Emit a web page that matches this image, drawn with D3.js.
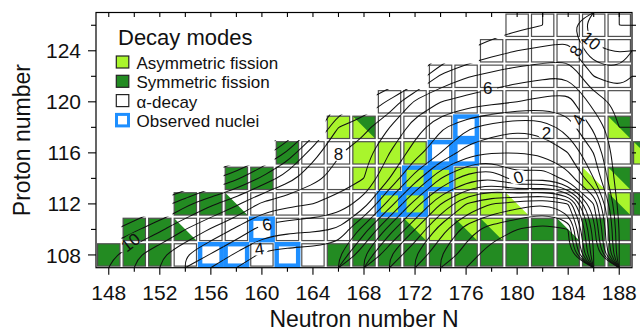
<!DOCTYPE html>
<html>
<head>
<meta charset="utf-8">
<script src="https://cdn.jsdelivr.net/npm/d3@7"></script>
<style>
  body { margin: 0; background: #fff; }
  text { font-family: "Liberation Sans", Arial, Helvetica, sans-serif; fill: #111; }
</style>
</head>
<body>
<svg id="chart" width="640" height="331"></svg>
<script>
// ---- data -------------------------------------------------------------
const neutronTicks = [148, 152, 156, 160, 164, 168, 172, 176, 180, 184, 188];
const protonTicks = [108, 112, 116, 120, 124];

// even-even nuclei, one row per proton number; first neutron number of each row
const protonRows = [108, 110, 112, 114, 116, 118, 120, 122, 124, 126];
const rowStartN  = [148, 150, 154, 158, 162, 166, 170, 174, 178, 180];
// G = symmetric fission, L = asymmetric fission, W = alpha decay
// "A|B": upper-right half A, lower-left half B
const rowModes = [
  "G G G W W W W W W G G G G G G G G G G G G",
  "G G W|G W W W W W W G G L|G L L|G L|G G G W|G G G",
  "G G W|G W W W W W L L L L L W|L W W W L|G G",
  "G G W W W L L L L L W W W W W|L G|L",
  "G W W L L L W W W W W W W W G|L",
  "L G|L W W W W W W W W W G|L",
  "W W W W W W W W W W",
  "W W W W W W W W",
  "W W W W W W",
  "W W W W W"
];
const observedN = [156, 158, 162, 160, 170, 172, 172, 174, 174, 176, 176];
const observedZ = [108, 108, 108, 110, 112, 112, 114, 114, 116, 116, 118];

// log-scale lifetime landscape sampled at the even-even grid (N = 148..188, Z = 108..126)
const fieldN = d3.range(148, 189, 2);
const fieldZ = d3.range(108, 127, 2);
const fieldValues = [
  [10.3, 9.2, 8.2, 7.0, 5.9, 4.8, 3.8, 3.5, 3.4, 3.1, 0.0, -3.0, -5.0, -7.0, -8.5, -9.5, -10, -10, -9.5, -2.0, 6.0],
  [12.3, 11.2, 10.2, 9.0, 7.9, 6.8, 5.6, 5.3, 5.2, 4.9, 2.5, -0.5, -3.0, -5.5, -7.5, -8.5, -9.0, -9.5, -9.0, -1.5, 6.0],
  [14.5, 13.5, 12.5, 11.3, 10.2, 9.2, 7.8, 7.3, 7.0, 6.6, 5.5, 2.5, -0.5, -3.0, -5.0, -6.0, -6.5, -7.0, -6.0, 0.0, 6.5],
  [17.5, 16.5, 15.5, 14.5, 13.2, 12.2, 10.8, 9.4, 8.3, 7.6, 7.0, 5.0, 2.5, 0.0, -1.5, -2.0, -0.3, -0.8, 0.5, 3.0, 6.8],
  [20.5, 19.5, 18.5, 17.5, 16.2, 15.2, 13.6, 11.8, 9.4, 8.1, 7.4, 6.0, 4.5, 3.0, 1.5, 1.0, 1.0, 1.2, 2.0, 4.0, 6.9],
  [23, 22, 21, 20, 19, 18, 16.5, 14.5, 12, 9.0, 8.3, 7.0, 5.5, 4.2, 3.2, 2.6, 2.2, 2.4, 3.5, 5.2, 7.0],
  [25, 24, 23, 22, 21, 20, 18.5, 16.5, 14, 11, 10, 8.8, 6.8, 6.0, 5.6, 5.3, 5.0, 4.7, 4.6, 6.4, 7.3],
  [27, 26, 25, 24, 23, 22, 20.5, 18.5, 16, 13, 12, 11, 10, 7.8, 7.1, 6.7, 6.4, 6.2, 6.0, 8.0, 8.5],
  [29, 28, 27, 26, 25, 24, 22.5, 20.5, 18, 15, 14, 13, 12, 10.5, 9.0, 8.4, 8.0, 7.8, 7.6, 9.8, 10.1],
  [31, 30, 29, 28, 27, 26, 24.5, 22.5, 20, 17, 16, 15, 14, 12.5, 10.5, 9.7, 9.3, 9.0, 8.8, 10.7, 11.0]
];
const contourLevels = d3.range(-12, 22, 1);

const contourLabelText  = ["10", "4", "6", "8", "6", "8", "10", "2", "4", "0"];
const contourLabelN     = [149.7, 159.8, 160.4, 166.0, 177.7, 184.6, 185.8, 182.3, 184.8, 180.1];
const contourLabelZ     = [109.0, 108.5, 110.4, 115.9, 121.1, 124.0, 124.8, 117.6, 118.6, 114.1];
const contourLabelAngle = [-38, -8, -15, 0, 0, -60, 40, 0, -62, -20];

const legendLabels = ["Asymmetric fission", "Symmetric fission", "\u03b1-decay", "Observed nuclei"];
const legendKeys = ["L", "G", "W", "O"];

// ---- layout -----------------------------------------------------------
const modeColor = { G: "#238b22", L: "#a9f52c", W: "#ffffff" };
const observedColor = "#1e8fff";
const svg = d3.select("#chart");
const x = d3.scaleLinear().domain([147, 189]).range([96, 632]);
const y = d3.scaleLinear().domain([107, 127]).range([267.7, 12.5]);

// list of cells
const cells = [];
protonRows.forEach((z, r) => {
  rowModes[r].split(" ").forEach((tok, i) => {
    cells.push({ n: rowStartN[r] + 2 * i, z, tok });
  });
});

// clip region = union of nuclei cells
const defs = svg.append("defs");
const clip = defs.append("clipPath").attr("id", "cellsClip");
cells.forEach(c => {
  clip.append("rect")
    .attr("x", x(c.n - 1)).attr("y", y(c.z + 1))
    .attr("width", x(c.n + 1) - x(c.n - 1)).attr("height", y(c.z - 1) - y(c.z + 1));
});

// ---- cells ------------------------------------------------------------
const inset = 1.6;
const cellG = svg.append("g");
cells.forEach(c => {
  const x0 = x(c.n - 1) + inset, x1 = x(c.n + 1) - inset;
  const y0 = y(c.z + 1) + inset, y1 = y(c.z - 1) - inset;
  const parts = c.tok.split("|");
  const lower = parts.length > 1 ? parts[1] : parts[0];
  cellG.append("rect").attr("x", x0).attr("y", y0).attr("width", x1 - x0).attr("height", y1 - y0)
    .attr("fill", modeColor[lower]);
  if (parts.length > 1) {
    cellG.append("path").attr("d", `M${x0},${y0}L${x1},${y0}L${x1},${y1}Z`).attr("fill", modeColor[parts[0]]);
  }
  cellG.append("rect").attr("x", x0).attr("y", y0).attr("width", x1 - x0).attr("height", y1 - y0)
    .attr("fill", "none").attr("stroke", "#505050").attr("stroke-width", 1.2);
});

// observed nuclei frames
observedN.forEach((n, i) => {
  const z = observedZ[i];
  svg.append("rect")
    .attr("x", x(n - 1) + 2.0).attr("y", y(z + 1) + 2.0)
    .attr("width", x(n + 1) - x(n - 1) - 4.0).attr("height", y(z - 1) - y(z + 1) - 4.0)
    .attr("fill", "none").attr("stroke", observedColor).attr("stroke-width", 4.5);
});

// ---- contours ---------------------------------------------------------
const nx = fieldN.length, ny = fieldZ.length;
const contours = d3.contours().size([nx, ny]).thresholds(contourLevels)(d3.merge(fieldValues));
const onEdge = p => p[0] <= 0 || p[0] >= nx || p[1] <= 0 || p[1] >= ny;
const pieces = [];
contours.forEach(c => c.coordinates.forEach(poly => poly.forEach(ring => {
  const pts = ring.slice(0, -1);
  const n = pts.length;
  const edgeSeg = i => onEdge(pts[i]) && onEdge(pts[(i + 1) % n]);
  let start = -1;
  for (let i = 0; i < n; i++) if (edgeSeg(i)) { start = i; break; }
  if (start < 0) { pieces.push({ pts, closed: true }); return; }
  let cur = null;
  for (let k = 1; k <= n; k++) {
    const i = (start + k) % n;
    if (edgeSeg(i)) {
      if (cur && cur.length > 1) pieces.push({ pts: cur, closed: false });
      cur = null;
    } else {
      if (!cur) cur = [pts[i]];
      cur.push(pts[(i + 1) % n]);
    }
  }
  if (cur && cur.length > 1) pieces.push({ pts: cur, closed: false });
})));

// grid coordinate -> (N, Z): sample i sits at i + 0.5
const gx = p => x(fieldN[0] - 1 + 2 * p[0]);
const gy = p => y(fieldZ[0] - 1 + 2 * p[1]);
const openLine = d3.line().x(gx).y(gy).curve(d3.curveBasis);
const closedLine = d3.line().x(gx).y(gy).curve(d3.curveBasisClosed);

// gaps in the lines under the labels
const mask = defs.append("mask").attr("id", "labelGaps");
mask.append("rect").attr("x", 0).attr("y", 0).attr("width", 640).attr("height", 331).attr("fill", "#fff");
contourLabelText.forEach((t, i) => {
  mask.append("ellipse")
    .attr("transform", `translate(${x(contourLabelN[i])},${y(contourLabelZ[i])}) rotate(${contourLabelAngle[i]})`)
    .attr("rx", 5 + 4.5 * t.length).attr("ry", 7).attr("fill", "#000");
});

svg.append("g").attr("clip-path", "url(#cellsClip)")
  .append("g").attr("mask", "url(#labelGaps)")
  .selectAll("path").data(pieces).join("path")
  .attr("d", d => d.closed ? closedLine(d.pts) : openLine(d.pts))
  .attr("fill", "none").attr("stroke", "#111").attr("stroke-width", 1.05);

contourLabelText.forEach((t, i) => {
  svg.append("text")
    .attr("transform", `translate(${x(contourLabelN[i])},${y(contourLabelZ[i])}) rotate(${contourLabelAngle[i]})`)
    .attr("text-anchor", "middle").attr("dy", "0.36em")
    .attr("font-size", 17).text(t);
});

// ---- frame & axes -----------------------------------------------------
const [fx0, fx1] = x.range();
const [fy1, fy0] = y.range();
svg.append("rect").attr("x", fx0).attr("y", fy0).attr("width", fx1 - fx0).attr("height", fy1 - fy0)
  .attr("fill", "none").attr("stroke", "#000").attr("stroke-width", 1.2);

const axisG = svg.append("g").attr("stroke", "#000").attr("stroke-width", 1.1);
d3.range(148, 189, 2).forEach(n => {
  const major = neutronTicks.includes(n);
  axisG.append("line").attr("x1", x(n)).attr("x2", x(n)).attr("y1", fy1).attr("y2", fy1 + (major ? 7 : 4));
  axisG.append("line").attr("x1", x(n)).attr("x2", x(n)).attr("y1", fy0).attr("y2", fy0 + 4.5);
});
d3.range(108, 127, 2).forEach(z => {
  const major = protonTicks.includes(z);
  axisG.append("line").attr("y1", y(z)).attr("y2", y(z)).attr("x1", fx0).attr("x2", fx0 - (major ? 8 : 5));
  axisG.append("line").attr("y1", y(z)).attr("y2", y(z)).attr("x1", fx1).attr("x2", fx1 + 4);
});

svg.append("g").selectAll("text").data(neutronTicks).join("text")
  .attr("x", d => x(d)).attr("y", 300).attr("text-anchor", "middle").attr("font-size", 21).text(d => d);
svg.append("g").selectAll("text").data(protonTicks).join("text")
  .attr("x", 81).attr("y", d => y(d)).attr("dy", "0.36em").attr("text-anchor", "end").attr("font-size", 21).text(d => d);

svg.append("text").attr("x", (fx0 + fx1) / 2).attr("y", 327).attr("text-anchor", "middle")
  .attr("font-size", 23).text("Neutron number N");
svg.append("text").attr("transform", `translate(30,${(fy0 + fy1) / 2}) rotate(-90)`)
  .attr("text-anchor", "middle").attr("font-size", 23).text("Proton number");

// ---- legend -----------------------------------------------------------
const leg = svg.append("g");
leg.append("text").attr("x", 118).attr("y", 45).attr("font-size", 22).text("Decay modes");
legendKeys.forEach((k, i) => {
  const yy = 56 + i * 19.3;
  if (k === "O") {
    leg.append("rect").attr("x", 116.5).attr("y", yy + 0.5).attr("width", 12).attr("height", 11.5)
      .attr("fill", "#fff").attr("stroke", observedColor).attr("stroke-width", 3);
  } else {
    leg.append("rect").attr("x", 116.3).attr("y", yy).attr("width", 12.5).attr("height", 12)
      .attr("fill", modeColor[k]).attr("stroke", "#222").attr("stroke-width", 1.2);
  }
  leg.append("text").attr("x", 136.5).attr("y", yy + 13).attr("font-size", 17).text(legendLabels[i]);
});
</script>
</body>
</html>
